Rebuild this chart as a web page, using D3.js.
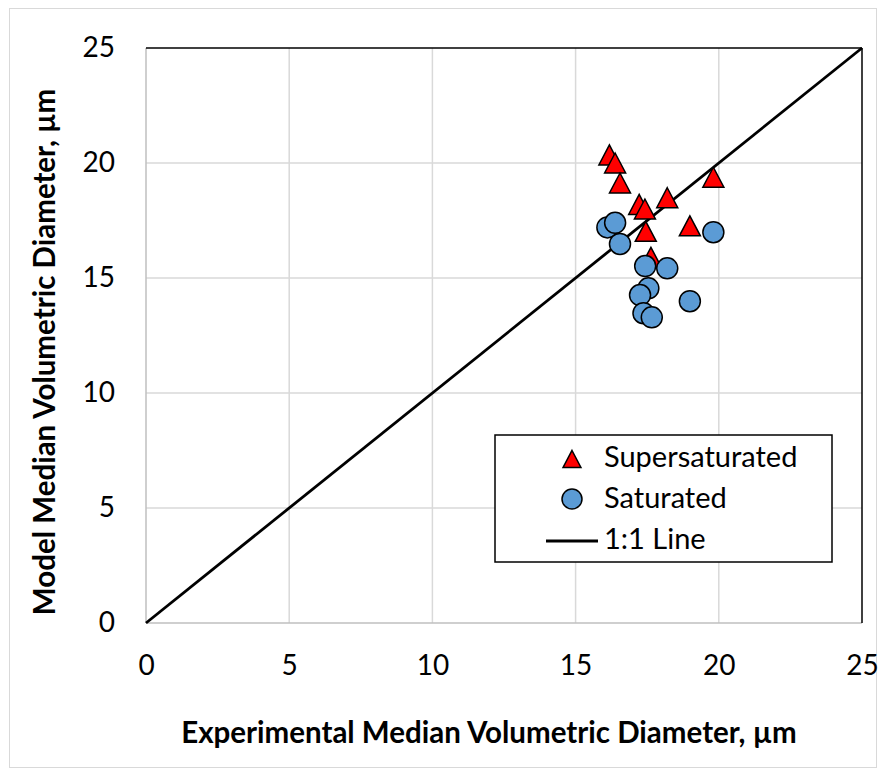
<!DOCTYPE html>
<html><head><meta charset="utf-8">
<script src="https://cdn.jsdelivr.net/npm/d3@7"></script>
<style>body{margin:0;background:#fff}svg{display:block}</style>
</head><body>
<script>
const superX = [16.18, 16.38, 16.55, 17.22, 17.42, 18.20, 19.81, 18.99, 17.45, 17.63];
const superY = [20.35, 20.00, 19.13, 18.20, 18.00, 18.49, 19.38, 17.27, 17.03, 15.90];
const satX = [16.11, 16.38, 16.55, 19.81, 17.43, 18.20, 17.54, 17.25, 18.99, 17.37, 17.66];
const satY = [17.20, 17.40, 16.48, 16.99, 15.52, 15.42, 14.55, 14.26, 13.99, 13.47, 13.29];
const lineX = [0, 25];
const lineY = [0, 25];
const ticks = [0, 5, 10, 15, 20, 25];
const legendLabels = ["Supersaturated", "Saturated", "1:1 Line"];

const W = 884, H = 775;
const font = "Lato, 'Open Sans', sans-serif";
const svg = d3.select("body").append("svg").attr("width", W).attr("height", H);
svg.append("rect").attr("x", 9.5).attr("y", 8.5).attr("width", 867).attr("height", 759)
  .attr("fill", "#fff").attr("stroke", "#d9d9d9").attr("stroke-width", 1);

const x = d3.scaleLinear().domain([0, 25]).range([146, 862]);
const y = d3.scaleLinear().domain([0, 25]).range([623, 48]);

// gridlines
const g = svg.append("g");
g.selectAll(".vg").data(ticks.slice(1, -1)).enter().append("line")
  .attr("x1", d => x(d)).attr("x2", d => x(d)).attr("y1", y(0)).attr("y2", y(25))
  .attr("stroke", "#d9d9d9").attr("stroke-width", 1.5);
g.selectAll(".hg").data(ticks.slice(1, -1)).enter().append("line")
  .attr("y1", d => y(d)).attr("y2", d => y(d)).attr("x1", x(0)).attr("x2", x(25))
  .attr("stroke", "#d9d9d9").attr("stroke-width", 1.5);

// axes lines
svg.append("line").attr("x1", x(0)).attr("x2", x(25)).attr("y1", y(0)).attr("y2", y(0)).attr("stroke", "#bfbfbf").attr("stroke-width", 1.5);
svg.append("line").attr("x1", x(0)).attr("x2", x(0)).attr("y1", y(0)).attr("y2", y(25)).attr("stroke", "#bfbfbf").attr("stroke-width", 1.5);
svg.append("line").attr("x1", x(0)).attr("x2", x(25)).attr("y1", y(25)).attr("y2", y(25)).attr("stroke", "#000").attr("stroke-width", 1.5);
svg.append("line").attr("x1", x(25)).attr("x2", x(25)).attr("y1", y(0)).attr("y2", y(25)).attr("stroke", "#000").attr("stroke-width", 1.5);

// tick labels via axes
const xAxis = svg.append("g").attr("transform", `translate(0,${y(0)})`)
  .call(d3.axisBottom(x).tickValues(ticks).tickSize(0).tickPadding(32));
const yAxis = svg.append("g").attr("transform", `translate(${x(0)},0)`)
  .call(d3.axisLeft(y).tickValues(ticks).tickSize(0).tickPadding(31));
[xAxis, yAxis].forEach(a => {
  a.select(".domain").remove();
  a.selectAll("text").attr("font-family", font).attr("font-size", 28).attr("fill", "#000");
});

// 1:1 line
svg.append("path").datum(lineX.map((v, i) => [v, lineY[i]]))
  .attr("d", d3.line().x(d => x(d[0])).y(d => y(d[1])))
  .attr("stroke", "#000").attr("stroke-width", 2.8).attr("fill", "none");

const triType = { draw(ctx, s) { const w = 10.5, h = 10; ctx.moveTo(0, -h); ctx.lineTo(w, h); ctx.lineTo(-w, h); ctx.closePath(); } };
const tri = d3.symbol().type(triType);
const superData = superX.map((v, i) => [v, superY[i]]);
const satData = satX.map((v, i) => [v, satY[i]]);

svg.append("g").selectAll("path").data(superData).enter().append("path")
  .attr("d", tri).attr("transform", d => `translate(${x(d[0])},${y(d[1])})`)
  .attr("fill", "#ff0000").attr("stroke", "#000").attr("stroke-width", 1.5);
svg.append("g").selectAll("circle").data(satData).enter().append("circle")
  .attr("cx", d => x(d[0])).attr("cy", d => y(d[1])).attr("r", 10.5)
  .attr("fill", "#5b9bd5").attr("stroke", "#000").attr("stroke-width", 1.5);

// axis titles
svg.append("text").attr("x", 489).attr("y", 743).attr("text-anchor", "middle")
  .attr("font-family", font).attr("font-weight", "bold").attr("font-size", 29.5)
  .text("Experimental Median Volumetric Diameter, µm");
svg.append("text").attr("transform", "translate(55,352) rotate(-90)").attr("text-anchor", "middle")
  .attr("font-family", font).attr("font-weight", "bold").attr("font-size", 29.5)
  .text("Model Median Volumetric Diameter, µm");

// legend
const lg = svg.append("g");
lg.append("rect").attr("x", 495).attr("y", 435).attr("width", 337).attr("height", 127)
  .attr("fill", "#fff").attr("stroke", "#000").attr("stroke-width", 1.5);
lg.append("path").attr("d", tri)
  .attr("transform", "translate(572,459) scale(0.85)").attr("fill", "#ff0000").attr("stroke", "#000").attr("stroke-width", 1.8);
lg.append("circle").attr("cx", 572).attr("cy", 499).attr("r", 10)
  .attr("fill", "#5b9bd5").attr("stroke", "#000").attr("stroke-width", 1.5);
lg.append("line").attr("x1", 546).attr("x2", 598).attr("y1", 541).attr("y2", 541)
  .attr("stroke", "#000").attr("stroke-width", 2.8);
lg.selectAll("text").data(legendLabels).enter().append("text")
  .attr("x", 604).attr("y", (d, i) => 457 + i * 41).attr("dy", "0.35em")
  .attr("font-family", font).attr("font-size", 29).text(d => d);
</script>
</body></html>
